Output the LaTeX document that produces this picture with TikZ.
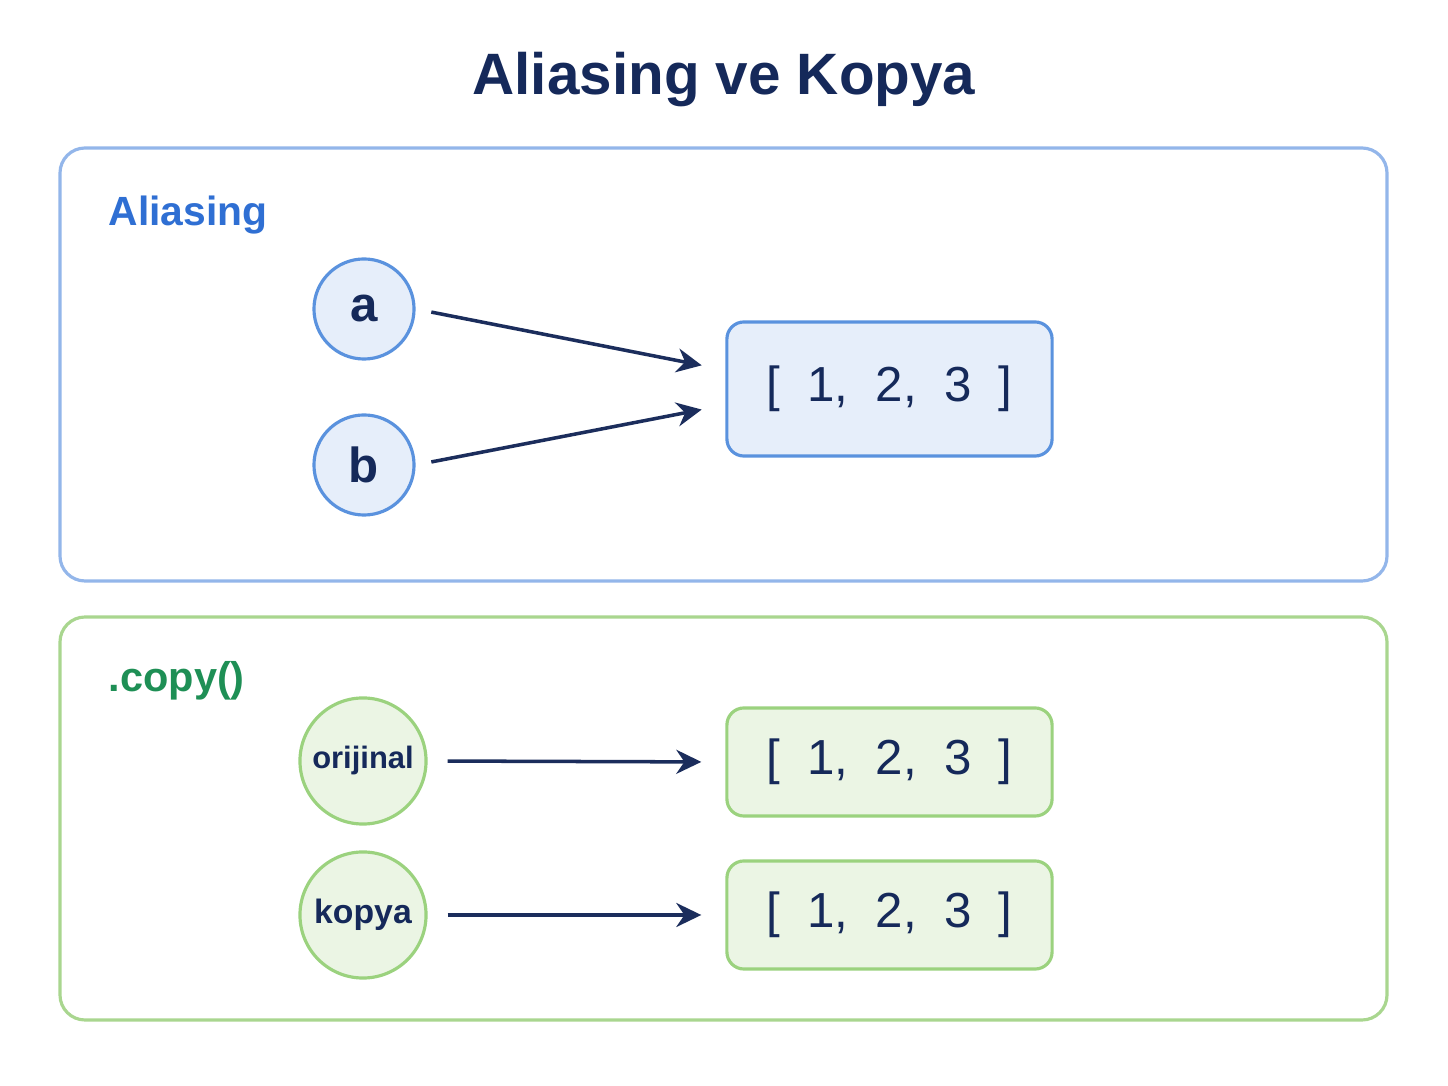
\documentclass[tikz,border=0pt]{standalone}
\usepackage{fontspec}
\setmainfont{Liberation Sans}
\usepackage{tikz}
\usetikzlibrary{arrows.meta}

\definecolor{navy}{HTML}{15295A}
\definecolor{arrowcol}{HTML}{1B2D5C}
\definecolor{bluepanel}{HTML}{93B6EA}
\definecolor{bluelabel}{HTML}{2F6FD3}
\definecolor{bluefill}{HTML}{E6EEFA}
\definecolor{bluedraw}{HTML}{5A92DE}
\definecolor{greenpanel}{HTML}{A9D68F}
\definecolor{greenlabel}{HTML}{1E8F55}
\definecolor{greenfill}{HTML}{EBF5E4}
\definecolor{greendraw}{HTML}{9BD27E}

\begin{document}
\begin{tikzpicture}[x=0.01cm, y=-0.01cm,
    panel/.style={line width=0.9pt, rounded corners=0.25cm, fill=white},
    varnode/.style={circle, line width=0.9pt, text=navy, inner sep=0pt},
    listbox/.style={rectangle, rounded corners=0.17cm, line width=0.9pt,
        text=navy, font=\fontsize{14}{16}\selectfont,
        minimum width=3.25cm},
    conn/.style={-{Stealth[length=0.25cm, width=0.24cm]}, line width=1pt,
        draw=arrowcol, shorten <=0.16cm, shorten >=0.24cm}]
        \useasboundingbox (0,0) rectangle (1448,1086);
        % title
        \node (title) at (724,80) {\fontsize{16.6}{20}\selectfont\bfseries\color{navy} Aliasing ve Kopya};
        % aliasing panel
        \draw [panel, draw=bluepanel] (60,148) rectangle (1387,581);
        \node[anchor=base west, inner sep=0pt, text=bluelabel, font=\fontsize{11.6}{14}\selectfont\bfseries] (alias_lbl) at (108,226) {Aliasing};
        \node[varnode, draw=bluedraw, fill=bluefill, minimum size=1cm, font=\fontsize{14}{16}\selectfont\bfseries] (a) at (364,309) {a};
        \node[varnode, draw=bluedraw, fill=bluefill, minimum size=1cm, font=\fontsize{14}{16}\selectfont\bfseries] (b) at (364,465) {b};
        \node[listbox, draw=bluedraw, fill=bluefill, minimum height=1.34cm] (lst_a) at (889.5,389) {[\ \ 1,\ \ 2,\ \ 3\ \ ]};
        \draw[conn] (a.east) -- ([yshift=0.19cm]lst_a.west);
        \draw[conn] (b.east) -- ([yshift=-0.16cm]lst_a.west);
        % copy panel
        \draw [panel, draw=greenpanel] (60,617) rectangle (1387,1020);
        \node[anchor=base west, inner sep=0pt, text=greenlabel, font=\fontsize{11.8}{14}\selectfont\bfseries] (copy_lbl) at (108,692) {.copy()};
        \node[varnode, draw=greendraw, fill=greenfill, minimum size=1.26cm, font=\fontsize{8.8}{11}\selectfont\bfseries] (orig) at (363,761) {orijinal};
        \node[varnode, draw=greendraw, fill=greenfill, minimum size=1.26cm, font=\fontsize{9.6}{11}\selectfont\bfseries] (kopya) at (363,915) {kopya};
        \node[listbox, draw=greendraw, fill=greenfill, minimum height=1.08cm] (lst_o) at (889.5,762) {[\ \ 1,\ \ 2,\ \ 3\ \ ]};
        \node[listbox, draw=greendraw, fill=greenfill, minimum height=1.08cm] (lst_k) at (889.5,915) {[\ \ 1,\ \ 2,\ \ 3\ \ ]};
        \draw[conn, shorten <=0.2cm] (orig.east) -- (lst_o.west);
        \draw[conn, shorten <=0.2cm] (kopya.east) -- (lst_k.west);
\end{tikzpicture}
\end{document}
